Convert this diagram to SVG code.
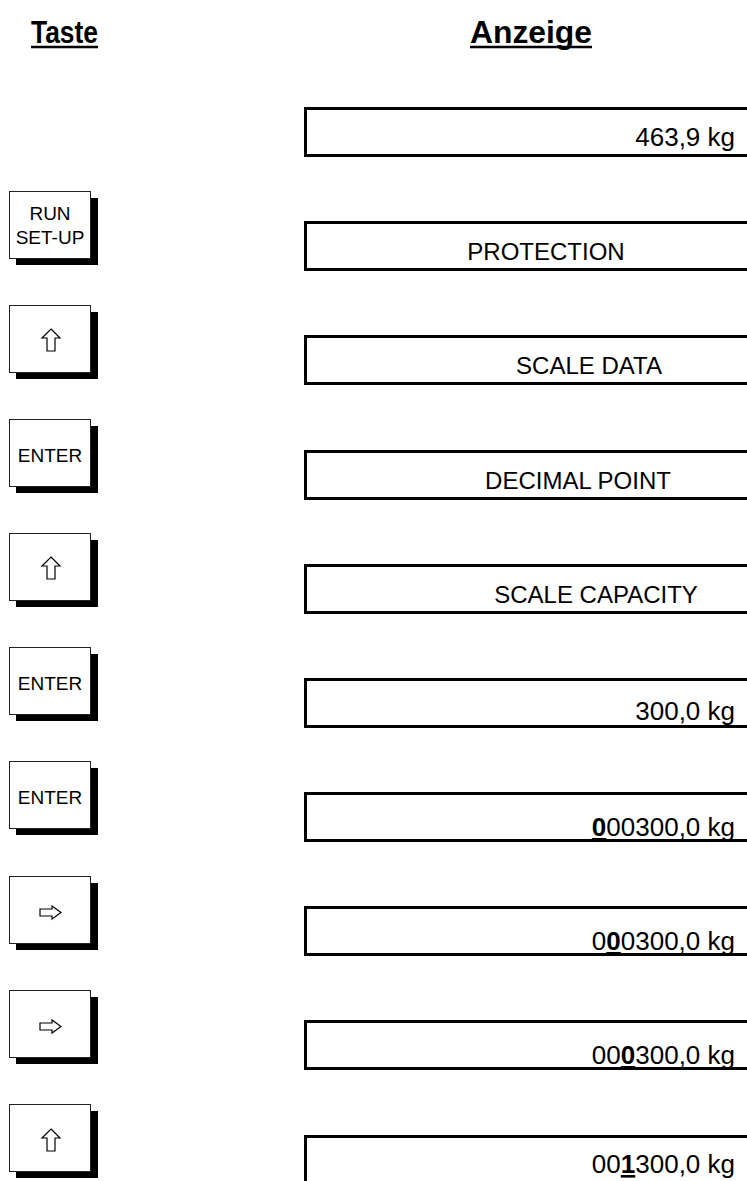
<svg xmlns="http://www.w3.org/2000/svg" width="747" height="1181" viewBox="0 0 747 1181">
<style>
.hdr{font-family:"Liberation Sans",Arial,sans-serif;font-weight:bold;font-size:32px;fill:#000}
.ul{stroke:#000;stroke-width:2.5}
.sh{fill:#000}
.face{fill:#fff;stroke:#222;stroke-width:1}
.kt{font-family:"Liberation Sans",Arial,sans-serif;font-size:19px;fill:#000;text-anchor:middle}
.ic{fill:#fff;stroke:#000;stroke-width:1.2;stroke-linejoin:miter}
.box{fill:#fff;stroke:#000;stroke-width:3}
.dt{font-family:"Liberation Sans",Arial,sans-serif;font-size:26px;fill:#000}
.lb{font-size:24px}
.r{text-anchor:end}
.m{text-anchor:middle}
.b{font-weight:bold;text-decoration:underline}
</style>
<defs>
<polygon id="up" class="ic" points="0,0 9,9 4,9 4,22 -4,22 -4,9 -9,9"/>
<polygon id="right" class="ic" points="0,-3.5 12,-3.5 12,-6.5 21,0 12,6.5 12,3.5 0,3.5"/>
</defs>
<rect width="747" height="1181" fill="#fff"/>
<g id="headers">
<text class="hdr" x="31" y="43" textLength="67" lengthAdjust="spacingAndGlyphs">Taste</text>
<line class="ul" x1="31" y1="47" x2="98" y2="47"/>
<text class="hdr" x="470" y="43" textLength="122" lengthAdjust="spacingAndGlyphs">Anzeige</text>
<line class="ul" x1="470" y1="47" x2="592" y2="47"/>
</g>
<g id="connectors"></g>
<g id="keys">
<g id="key1"><rect class="sh" x="16" y="198" width="82" height="67"/><rect class="face" x="9.5" y="191.5" width="81" height="67"/><text class="kt" x="50" y="220">RUN</text><text class="kt" x="50" y="244">SET-UP</text></g>
<g id="key2"><rect class="sh" x="16" y="312" width="82" height="67"/><rect class="face" x="9.5" y="305.5" width="81" height="67"/><use href="#up" x="51" y="329"/></g>
<g id="key3"><rect class="sh" x="16" y="426" width="82" height="67"/><rect class="face" x="9.5" y="419.5" width="81" height="67"/><text class="kt" x="50" y="462">ENTER</text></g>
<g id="key4"><rect class="sh" x="16" y="540" width="82" height="67"/><rect class="face" x="9.5" y="533.5" width="81" height="67"/><use href="#up" x="51" y="557"/></g>
<g id="key5"><rect class="sh" x="16" y="654" width="82" height="67"/><rect class="face" x="9.5" y="647.5" width="81" height="67"/><text class="kt" x="50" y="690">ENTER</text></g>
<g id="key6"><rect class="sh" x="16" y="768" width="82" height="67"/><rect class="face" x="9.5" y="761.5" width="81" height="67"/><text class="kt" x="50" y="804">ENTER</text></g>
<g id="key7"><rect class="sh" x="16" y="883" width="82" height="67"/><rect class="face" x="9.5" y="876.5" width="81" height="67"/><use href="#right" x="40" y="912.5"/></g>
<g id="key8"><rect class="sh" x="16" y="997" width="82" height="67"/><rect class="face" x="9.5" y="990.5" width="81" height="67"/><use href="#right" x="40" y="1026.5"/></g>
<g id="key9"><rect class="sh" x="16" y="1111" width="82" height="67"/><rect class="face" x="9.5" y="1104.5" width="81" height="67"/><use href="#up" x="51" y="1129"/></g>
</g>
<g id="displays">
<g id="disp1"><rect class="box" x="305.5" y="108.5" width="460" height="47"/><text class="dt r" x="735" y="146">463,9 kg</text></g>
<g id="disp2"><rect class="box" x="305.5" y="222.5" width="460" height="47"/><text class="dt lb m" x="546" y="260">PROTECTION</text></g>
<g id="disp3"><rect class="box" x="305.5" y="336.5" width="460" height="47"/><text class="dt lb m" x="589" y="374">SCALE DATA</text></g>
<g id="disp4"><rect class="box" x="305.5" y="451.5" width="460" height="47"/><text class="dt lb m" x="578" y="489">DECIMAL POINT</text></g>
<g id="disp5"><rect class="box" x="305.5" y="565.5" width="460" height="47"/><text class="dt lb m" x="596" y="603">SCALE CAPACITY</text></g>
<g id="disp6"><rect class="box" x="305.5" y="679.5" width="460" height="47"/><text class="dt r" x="735" y="720">300,0 kg</text></g>
<g id="disp7"><rect class="box" x="305.5" y="793.5" width="460" height="47"/><text class="dt r" x="735" y="836"><tspan class="b">0</tspan>00300,0 kg</text></g>
<g id="disp8"><rect class="box" x="305.5" y="907.5" width="460" height="47"/><text class="dt r" x="735" y="950">0<tspan class="b">0</tspan>0300,0 kg</text></g>
<g id="disp9"><rect class="box" x="305.5" y="1021.5" width="460" height="47"/><text class="dt r" x="735" y="1064">00<tspan class="b">0</tspan>300,0 kg</text></g>
<g id="disp10"><rect class="box" x="305.5" y="1136.5" width="460" height="47"/><text class="dt r" x="735" y="1173">00<tspan class="b">1</tspan>300,0 kg</text></g>
</g>
</svg>
